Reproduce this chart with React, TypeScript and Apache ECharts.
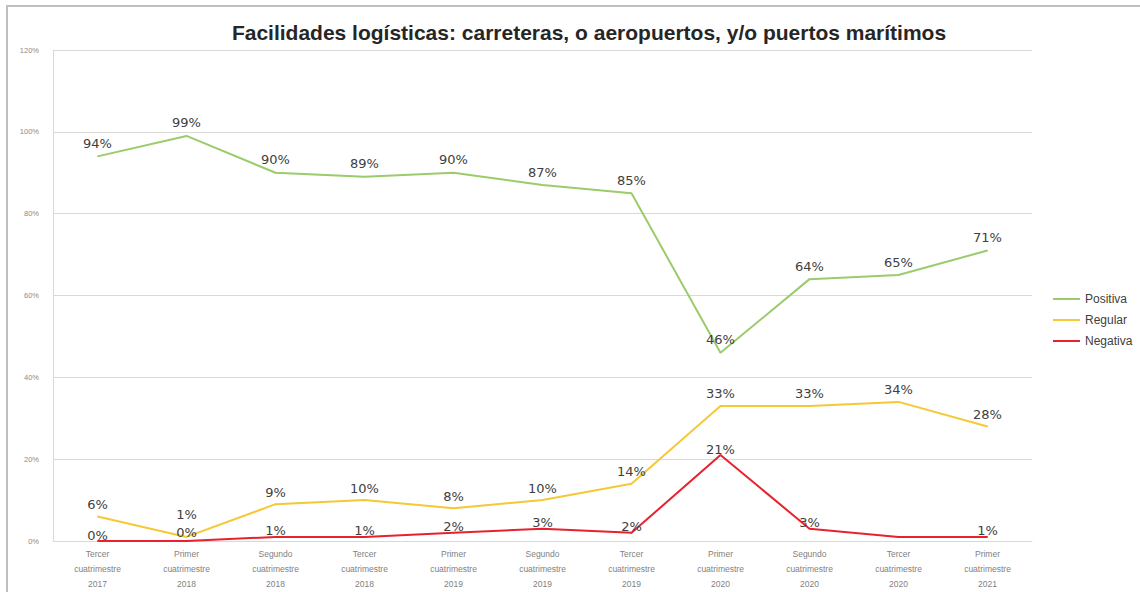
import React, { useEffect, useRef } from "react";
import * as echarts from "echarts";

const categories = [
  "Tercer\ncuatrimestre\n2017",
  "Primer\ncuatrimestre\n2018",
  "Segundo\ncuatrimestre\n2018",
  "Tercer\ncuatrimestre\n2018",
  "Primer\ncuatrimestre\n2019",
  "Segundo\ncuatrimestre\n2019",
  "Tercer\ncuatrimestre\n2019",
  "Primer\ncuatrimestre\n2020",
  "Segundo\ncuatrimestre\n2020",
  "Tercer\ncuatrimestre\n2020",
  "Primer\ncuatrimestre\n2021",
];
const positiva = [94, 99, 90, 89, 90, 87, 85, 46, 64, 65, 71];
const regular = [6, 1, 9, 10, 8, 10, 14, 33, 33, 34, 28];
const negativa = [0, 0, 1, 1, 2, 3, 2, 21, 3, 1, 1];
// index of the Negativa label that the reference hides (covered in the original)
const negativaHiddenLabels = [9];

const title = "Facilidades logísticas: carreteras, o aeropuertos, y/o puertos marítimos";

export default function App() {
  const ref = useRef<HTMLDivElement>(null);
  useEffect(() => {
    document.body.style.margin = "0";
    const chart = echarts.init(ref.current!, null, { renderer: "svg" });
    const baseLabel = {
      show: true,
      position: "top" as const,
      formatter: (p: any) => p.value + "%",
      color: "#404040",
      fontSize: 13,
      fontFamily: "DejaVu Sans",
    };
    const mk = (name: string, data: any[], color: string, distance: number) => ({
      name,
      type: "line",
      data,
      symbol: "circle",
      symbolSize: 1,
      showSymbol: true,
      lineStyle: { color, width: 2 },
      itemStyle: { color },
      label: { ...baseLabel, distance },
    });
    const regularData = regular.map((v, i) => (i === 1 ? { value: v, label: { offset: [0, -10] } } : v));
    const negativaData = negativa.map((v, i) => {
      if (negativaHiddenLabels.includes(i)) return { value: v, label: { show: false } };
      if (i === 1) return { value: v, label: { offset: [0, -3] } };
      return v;
    });
    chart.setOption({
      animation: false,
      backgroundColor: "#ffffff",
      title: {
        text: title,
        left: 584,
        textAlign: "center",
        top: 17,
        textStyle: { fontSize: 21, fontWeight: "bold", color: "#262626", fontFamily: "Liberation Sans" },
      },
      legend: {
        orient: "vertical",
        left: 1048,
        top: 288,
        itemWidth: 27,
        itemHeight: 2,
        itemGap: 9,
        icon: "rect",
        textStyle: { fontSize: 12, color: "#404040", fontFamily: "Liberation Sans" },
        data: ["Positiva", "Regular", "Negativa"],
      },
      grid: { left: 53, right: 108, top: 50, bottom: 51 },
      xAxis: {
        type: "category",
        data: categories,
        boundaryGap: true,
        axisTick: { show: false },
        axisLine: { lineStyle: { color: "#D9D9D9" } },
        axisLabel: { fontSize: 8.5, color: "#7f7f7f", lineHeight: 15, margin: 5, interval: 0, fontFamily: "Liberation Sans" },
      },
      yAxis: {
        type: "value",
        min: 0,
        max: 120,
        interval: 20,
        axisLabel: { formatter: "{value}%", fontSize: 7.5, color: "#8a8a8a", margin: 14, fontFamily: "Liberation Sans" },
        axisLine: { show: true, lineStyle: { color: "#D9D9D9" } },
        splitLine: { lineStyle: { color: "#D9D9D9" } },
      },
      graphic: [
        {
          type: "polyline",
          shape: { points: [[7, 592], [7, 6], [1140, 6]] },
          style: { stroke: "#BFBFBF", lineWidth: 2, fill: "none" },
        },
      ],
      series: [
        mk("Positiva", positiva, "#9BCB6B", 6),
        mk("Regular", regularData, "#F5C836", 5),
        mk("Negativa", negativaData, "#E8212E", -1),
      ],
    });
    return () => chart.dispose();
  }, []);
  return <div ref={ref} style={{ width: 1140, height: 592 }} />;
}
